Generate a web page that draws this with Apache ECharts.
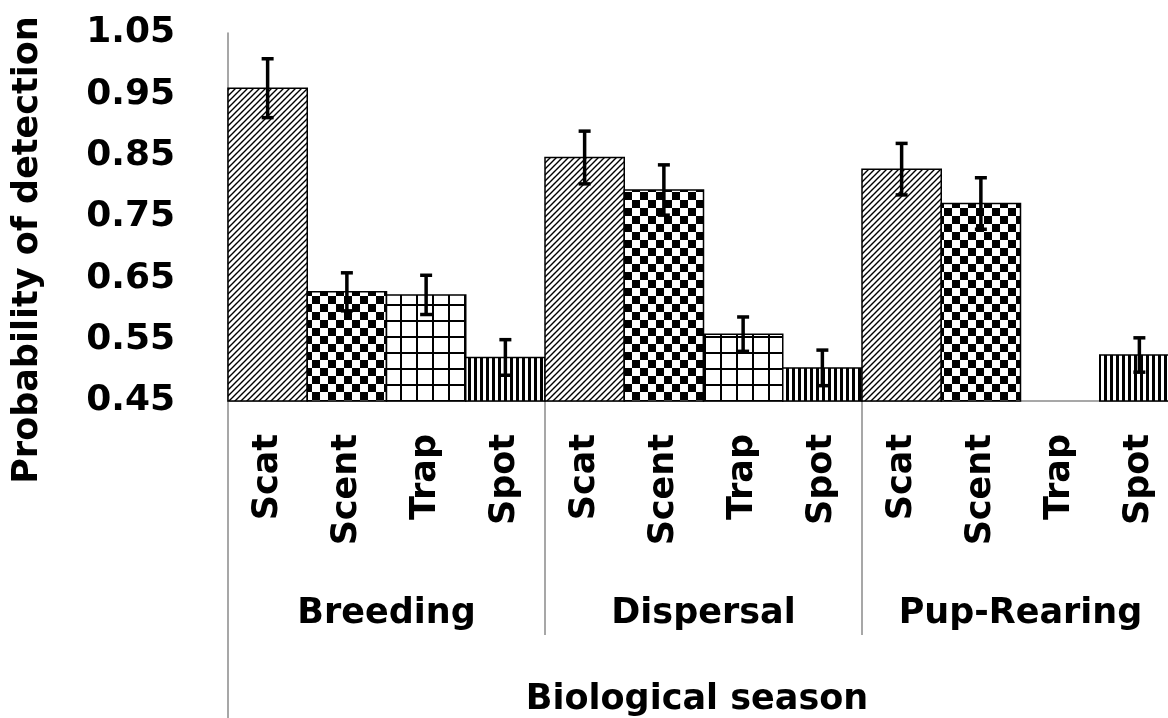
<!DOCTYPE html>
<html>
<head>
<meta charset="utf-8">
<script src="https://cdn.jsdelivr.net/npm/echarts@6/dist/echarts.min.js"></script>
<style>
html,body{margin:0;padding:0;background:#fff;overflow:hidden;width:1168px;height:718px;}
#chart{width:1180px;height:718px;}
</style>
</head>
<body>
<div id="chart"></div>
<script>
// ---- data ----
const methods = ['Scat', 'Scent', 'Trap', 'Spot'];
const seasons = ['Breeding', 'Dispersal', 'Pup-Rearing'];
const breedingValues  = [0.960, 0.628, 0.623, 0.521];
const dispersalValues = [0.847, 0.794, 0.559, 0.504];
const pupValues       = [0.828, 0.772, null,  0.525];
const breedingErrors  = [0.048, 0.031, 0.032, 0.029];
const dispersalErrors = [0.043, 0.041, 0.028, 0.029];
const pupErrors       = [0.042, 0.042, null,  0.028];
const yTicks = ['0.45', '0.55', '0.65', '0.75', '0.85', '0.95', '1.05'];
const yTitle = 'Probability of detection';
const xTitle = 'Biological season';

// ---- build ----
const categories = [];
const values = [];
const errors = [];
const methodIndex = [];
[breedingValues, dispersalValues, pupValues].forEach((vals, g) => {
  const errs = [breedingErrors, dispersalErrors, pupErrors][g];
  methods.forEach((m, k) => {
    categories.push(m);
    values.push(vals[k]);
    errors.push(errs[k]);
    methodIndex.push(k);
  });
});

function makePattern(kind) {
  const c = document.createElement('canvas');
  let s;
  if (kind === 0) { // diagonal hatch
    s = 6; c.width = s; c.height = s;
    const x = c.getContext('2d');
    x.fillStyle = '#fff'; x.fillRect(0, 0, s, s);
    x.strokeStyle = '#000'; x.lineWidth = 1.4;
    x.beginPath();
    x.moveTo(-1, s + 1); x.lineTo(s + 1, -1);
    x.moveTo(-1, 1); x.lineTo(1, -1);
    x.moveTo(s - 1, s + 1); x.lineTo(s + 1, s - 1);
    x.stroke();
  } else if (kind === 1) { // checkerboard
    s = 16; c.width = s; c.height = s;
    const x = c.getContext('2d');
    x.fillStyle = '#fff'; x.fillRect(0, 0, s, s);
    x.fillStyle = '#000';
    x.fillRect(0, 0, 8, 8); x.fillRect(8, 8, 8, 8);
  } else if (kind === 2) { // grid
    s = 16; c.width = s; c.height = s;
    const x = c.getContext('2d');
    x.fillStyle = '#fff'; x.fillRect(0, 0, s, s);
    x.fillStyle = '#000';
    x.fillRect(0, 0, 2, s); x.fillRect(0, 0, s, 2);
  } else { // vertical stripes
    s = 6; c.width = s; c.height = s;
    const x = c.getContext('2d');
    x.fillStyle = '#fff'; x.fillRect(0, 0, s, s);
    x.fillStyle = '#000';
    x.fillRect(0, 0, 3, s);
  }
  return { image: c, repeat: 'repeat' };
}
const patterns = [0, 1, 2, 3].map(makePattern);

const barData = values.map((v, i) => [i, v, methodIndex[i]]);
const errData = values.map((v, i) => [i, v, errors[i]]);

const FONT = 'DejaVu Sans';
const AXIS_GRAY = '#8a8a8a';

const chart = echarts.init(document.getElementById('chart'), null, { renderer: 'canvas', width: 1180, height: 718 });
chart.setOption({
  animation: false,
  backgroundColor: '#fff',
  grid: { left: 228, top: 33, width: 951, height: 368, containLabel: false },
  xAxis: [
    {
      type: 'category', data: categories, position: 'bottom',
      axisLine: { show: true, lineStyle: { color: AXIS_GRAY, width: 1.5 } },
      axisTick: { show: false },
      axisLabel: { rotate: 90, margin: 33, fontSize: 35, fontWeight: 'bold', fontFamily: FONT, color: '#000', interval: 0 }
    },
    {
      type: 'category', data: seasons, position: 'bottom',
      axisLine: { show: false },
      axisTick: { show: true, length: 234, lineStyle: { color: AXIS_GRAY, width: 1.5 } },
      axisLabel: { margin: 195, fontSize: 35, fontWeight: 'bold', fontFamily: FONT, color: '#000', interval: 0 }
    },
    {
      type: 'category', data: [''], position: 'bottom',
      axisLine: { show: false },
      axisTick: { show: true, length: 317, lineStyle: { color: AXIS_GRAY, width: 1.5 } },
      axisLabel: { show: false }
    }
  ],
  yAxis: {
    type: 'value', min: 0.45, max: 1.05, interval: 0.1,
    axisLine: { show: true, lineStyle: { color: AXIS_GRAY, width: 1.5 } },
    axisTick: { show: false },
    splitLine: { show: false },
    axisLabel: {
      margin: 53, fontSize: 36, fontWeight: 'bold', fontFamily: FONT, color: '#000',
      formatter: function (v) {
        const idx = Math.round((v - 0.45) / 0.1);
        return yTicks[idx] !== undefined ? yTicks[idx] : v.toFixed(2);
      }
    }
  },
  graphic: [{
    type: 'text', x: 28, y: 250, rotation: Math.PI / 2,
    style: { text: yTitle, fontSize: 35, fontWeight: 'bold', fontFamily: FONT, fill: '#000', align: 'center', verticalAlign: 'middle' }
  }, {
    type: 'text', x: 697, y: 700,
    style: { text: xTitle, fontSize: 35, fontWeight: 'bold', fontFamily: FONT, fill: '#000', align: 'center', verticalAlign: 'middle' }
  }],
  series: [
    {
      type: 'custom', xAxisIndex: 0, yAxisIndex: 0, clip: false,
      data: barData,
      renderItem: function (params, api) {
        const v = api.value(1);
        if (v == null || isNaN(v)) return null;
        const i = api.value(0);
        const top = api.coord([i, v]);
        const base = api.coord([i, 0.45]);
        const w = api.size([1, 0])[0];
        return {
          type: 'rect',
          shape: { x: top[0] - w / 2, y: top[1], width: w, height: base[1] - top[1] },
          style: { fill: patterns[api.value(2)], stroke: '#000', lineWidth: 1.5 }
        };
      }
    },
    {
      type: 'custom', xAxisIndex: 0, yAxisIndex: 0, clip: false,
      data: errData,
      z: 5,
      renderItem: function (params, api) {
        const v = api.value(1);
        const e = api.value(2);
        if (v == null || isNaN(v) || e == null || isNaN(e)) return null;
        const i = api.value(0);
        const hi = api.coord([i, v + e]);
        const lo = api.coord([i, v - e]);
        const cap = 6;
        const st = { stroke: '#000', lineWidth: 3.5 };
        return {
          type: 'group',
          children: [
            { type: 'line', shape: { x1: hi[0], y1: hi[1], x2: lo[0], y2: lo[1] }, style: st },
            { type: 'line', shape: { x1: hi[0] - cap, y1: hi[1], x2: hi[0] + cap, y2: hi[1] }, style: st },
            { type: 'line', shape: { x1: lo[0] - cap, y1: lo[1], x2: lo[0] + cap, y2: lo[1] }, style: st }
          ]
        };
      }
    }
  ]
});
</script>
</body>
</html>
